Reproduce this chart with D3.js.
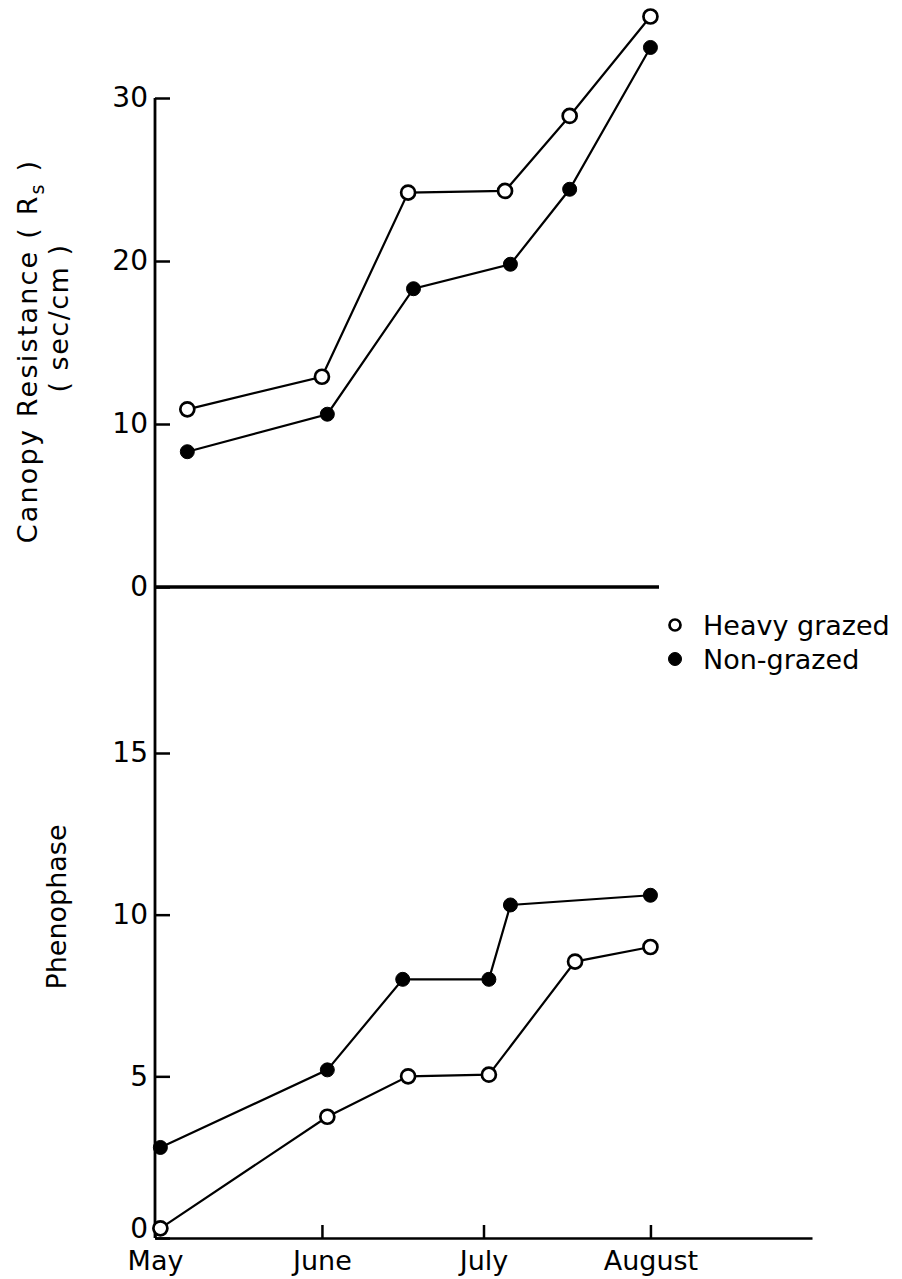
<!DOCTYPE html>
<html>
<head>
<meta charset="utf-8">
<script src="https://cdn.jsdelivr.net/npm/d3@7"></script>
<style>
    body { margin: 0; background: #fff; }
    svg { display: block; font-family: "DejaVu Sans", sans-serif; }
    .axis text { font-family: "DejaVu Sans", sans-serif; fill: #000; }
    .axis line, .axis path { stroke: #000; stroke-width: 2.5; }
</style>
</head>
<body>
<script>
// sampling dates (1975 season)
var topHeavyDates = ["1975-05-07", "1975-06-01", "1975-06-17", "1975-07-05", "1975-07-17", "1975-08-01"];
var topNonDates   = ["1975-05-07", "1975-06-02", "1975-06-18", "1975-07-06", "1975-07-17", "1975-08-01"];
var botHeavyDates = ["1975-05-02", "1975-06-02", "1975-06-17", "1975-07-02", "1975-07-18", "1975-08-01"];
var botNonDates   = ["1975-05-02", "1975-06-02", "1975-06-16", "1975-07-02", "1975-07-06", "1975-08-01"];

// canopy resistance (sec/cm)
var resistHeavy = [10.9, 12.9, 24.2, 24.3, 28.9, 35.0];
var resistNon   = [8.3, 10.6, 18.3, 19.8, 24.4, 33.1];

// phenophase
var phenoHeavy = [0.3, 3.75, 5.0, 5.05, 8.55, 9.0];
var phenoNon   = [2.8, 5.2, 8.0, 8.0, 10.3, 10.6];

var resistTicks = [0, 10, 20, 30];
var phenoTicks = [0, 5, 10, 15];
var legendLabels = ["Heavy grazed", "Non-grazed"];

var W = 902, H = 1279;
var parse = d3.timeParse("%Y-%m-%d");

var svg = d3.select("body").append("svg")
    .attr("width", W)
    .attr("height", H);

var x = d3.scaleTime()
    .domain([parse("1975-05-01"), parse("1975-08-31")])
    .range([155, 812]);

var yTop = d3.scaleLinear().domain([0, 30]).range([587, 98]);
var yBot = d3.scaleLinear().domain([0, 15]).range([1238, 753]);

// shared vertical axis line
svg.append("line")
    .attr("x1", x.range()[0]).attr("x2", x.range()[0])
    .attr("y1", yTop(30)).attr("y2", yBot(0))
    .attr("stroke", "#000").attr("stroke-width", 2.8);

// top zero line
svg.append("line")
    .attr("x1", x.range()[0]).attr("x2", 659)
    .attr("y1", yTop(0)).attr("y2", yTop(0))
    .attr("stroke", "#000").attr("stroke-width", 3.5);

function yAxis(scale, ticks) {
    var g = svg.append("g")
        .attr("class", "axis")
        .attr("transform", "translate(" + x.range()[0] + ",0)")
        .call(d3.axisLeft(scale).tickValues(ticks).tickSize(-15).tickPadding(7).tickFormat(d3.format("d")));
    g.select(".domain").remove();
    g.selectAll("text").style("font-size", "28px");
    return g;
}
yAxis(yTop, resistTicks);
var botAxis = yAxis(yBot, phenoTicks);
// the bottom zero sits a little above the corner, as in the print
botAxis.selectAll("text").filter(function (d) { return d === 0; }).attr("dy", "-0.03em");

var xg = svg.append("g")
    .attr("class", "axis")
    .attr("transform", "translate(0," + yBot(0) + ")")
    .call(d3.axisBottom(x).ticks(d3.timeMonth.every(1)).tickSize(-13).tickSizeOuter(0)
        .tickPadding(13).tickFormat(d3.timeFormat("%B")));
xg.selectAll("text").style("font-size", "27px");
xg.select(".domain").attr("stroke-width", 3);

function series(dates, vals, yScale, open) {
    var pts = dates.map(function (d, i) { return { date: parse(d), v: vals[i] }; });
    var line = d3.line()
        .x(function (d) { return x(d.date); })
        .y(function (d) { return yScale(d.v); });
    svg.append("path")
        .datum(pts)
        .attr("d", line)
        .attr("fill", "none")
        .attr("stroke", "#000")
        .attr("stroke-width", 2.2);
    svg.append("g").selectAll("circle")
        .data(pts)
        .enter()
        .append("circle")
        .attr("cx", function (d) { return x(d.date); })
        .attr("cy", function (d) { return yScale(d.v); })
        .attr("r", 7)
        .attr("fill", open ? "#fff" : "#000")
        .attr("stroke", "#000")
        .attr("stroke-width", open ? 2.7 : 1);
}

series(topHeavyDates, resistHeavy, yTop, true);
series(topNonDates, resistNon, yTop, false);
series(botHeavyDates, phenoHeavy, yBot, true);
series(botNonDates, phenoNon, yBot, false);

// legend
var leg = svg.append("g").attr("transform", "translate(675,625)");
legendLabels.forEach(function (lab, i) {
    leg.append("circle")
        .attr("cx", 0).attr("cy", i * 34)
        .attr("r", i === 0 ? 5.5 : 6.5)
        .attr("fill", i === 0 ? "#fff" : "#000")
        .attr("stroke", "#000")
        .attr("stroke-width", i === 0 ? 2.7 : 1);
    leg.append("text")
        .attr("x", 28).attr("y", i * 34 + 10)
        .style("font-size", "27px")
        .text(lab);
});

// y labels
var t1 = svg.append("text")
    .attr("transform", "translate(37,351) rotate(-90)")
    .attr("text-anchor", "middle")
    .style("font-size", "27px")
    .style("letter-spacing", "2.2px");
t1.append("tspan").text("Canopy Resistance ( R");
t1.append("tspan").attr("dy", 7).style("font-size", "19px").text("s");
t1.append("tspan").attr("dy", -7).text(" )");

svg.append("text")
    .attr("transform", "translate(68,318) rotate(-90)")
    .attr("text-anchor", "middle")
    .style("font-size", "27px")
    .style("letter-spacing", "1.5px")
    .text("( sec/cm )");

svg.append("text")
    .attr("transform", "translate(66,907) rotate(-90)")
    .attr("text-anchor", "middle")
    .style("font-size", "27px")
    .text("Phenophase");
</script>
</body>
</html>
